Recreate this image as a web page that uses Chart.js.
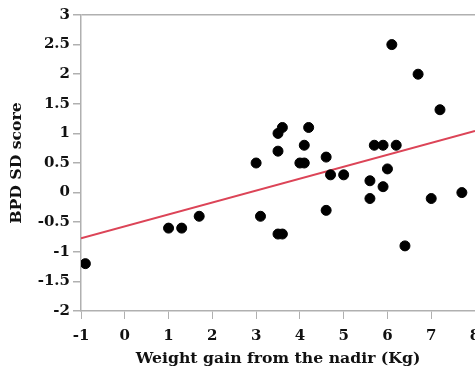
<!DOCTYPE html>
<html>
<head>
<meta charset="utf-8">
<script src="https://cdn.jsdelivr.net/npm/chart.js@4"></script>
<style>
html,body{margin:0;padding:0;background:#fff;overflow:hidden;}
#wrap{width:475px;height:372px;overflow:hidden;position:relative;}
canvas{display:block;}
</style>
</head>
<body>
<div id="wrap"><canvas id="c" width="520" height="372"></canvas></div>
<script>
const weightGain = [6.1, 6.7, 7.2, 3.6, 3.5, 4.2, 3.5, 4.1, 3.0, 4.0, 4.1, 4.6, 4.7, 5.0, 5.7, 5.9, 6.2, 6.0, 5.6, 5.9, 5.6, 7.0, 7.7, 3.1, 3.5, 3.6, 4.6, 6.4, -0.9, 1.0, 1.3, 1.7];
const bpdScore   = [2.5, 2.0, 1.4, 1.1, 1.0, 1.1, 0.7, 0.8, 0.5, 0.5, 0.5, 0.6, 0.3, 0.3, 0.8, 0.8, 0.8, 0.4, 0.2, 0.1, -0.1, -0.1, 0.0, -0.4, -0.7, -0.7, -0.3, -0.9, -1.2, -0.6, -0.6, -0.4];
const fitX = [-1, 8];
const fitY = [-0.77, 1.04];
const xTicks = [-1, 0, 1, 2, 3, 4, 5, 6, 7, 8];
const yTicks = [-2, -1.5, -1, -0.5, 0, 0.5, 1, 1.5, 2, 2.5, 3];
const xTitle = 'Weight gain from the nadir (Kg)';
const yTitle = 'BPD SD score';

const fontFam = '"DejaVu Serif", serif';
const axisGray = '#b0b0b0';

new Chart(document.getElementById('c'), {
  type: 'scatter',
  data: {
    datasets: [
      {
        label: 'points',
        data: weightGain.map((x, i) => ({x: x, y: bpdScore[i]})),
        backgroundColor: '#000',
        borderColor: '#000',
        pointRadius: 5,
        pointHoverRadius: 5
      },
      {
        label: 'fit',
        type: 'line',
        data: fitX.map((x, i) => ({x: x, y: fitY[i]})),
        borderColor: '#dc4457',
        borderWidth: 2,
        pointRadius: 0,
        fill: false
      }
    ]
  },
  options: {
    responsive: false,
    animation: false,
    layout: {padding: {left: 0, right: 45, top: 15, bottom: 0}},
    plugins: {legend: {display: false}, tooltip: {enabled: false}},
    scales: {
      x: {
        type: 'linear',
        min: -1, max: 8,
        afterBuildTicks: s => { s.ticks = xTicks.map(v => ({value: v})); },
        afterFit: s => { s.height = 61; },
        ticks: {color: '#111', font: {family: fontFam, size: 15, weight: 'bold'}, padding: 8, maxRotation: 0,
                callback: v => String(Number(v))},
        grid: {drawOnChartArea: false, tickLength: 8, tickColor: axisGray, color: axisGray},
        border: {color: axisGray, width: 1.5},
        title: {display: true, text: xTitle, color: '#111', font: {family: fontFam, size: 15.7, weight: 'bold'}, padding: {top: 0, bottom: 4}}
      },
      y: {
        type: 'linear',
        min: -2, max: 3,
        afterBuildTicks: s => { s.ticks = yTicks.map(v => ({value: v})); },
        afterFit: s => { s.width = 81; },
        ticks: {color: '#111', font: {family: fontFam, size: 15, weight: 'bold'}, padding: 3,
                callback: v => String(Number(v))},
        grid: {
          drawOnChartArea: true,
          tickLength: 8,
          tickColor: axisGray,
          color: c => (c.tick && c.tick.value === 3) ? axisGray : 'rgba(0,0,0,0)',
          lineWidth: 1.5
        },
        border: {color: axisGray, width: 1.5},
        title: {display: true, text: yTitle, color: '#111', font: {family: fontFam, size: 15.7, weight: 'bold'}, padding: {top: 8, bottom: 0}}
      }
    }
  }
});
</script>
</body>
</html>
